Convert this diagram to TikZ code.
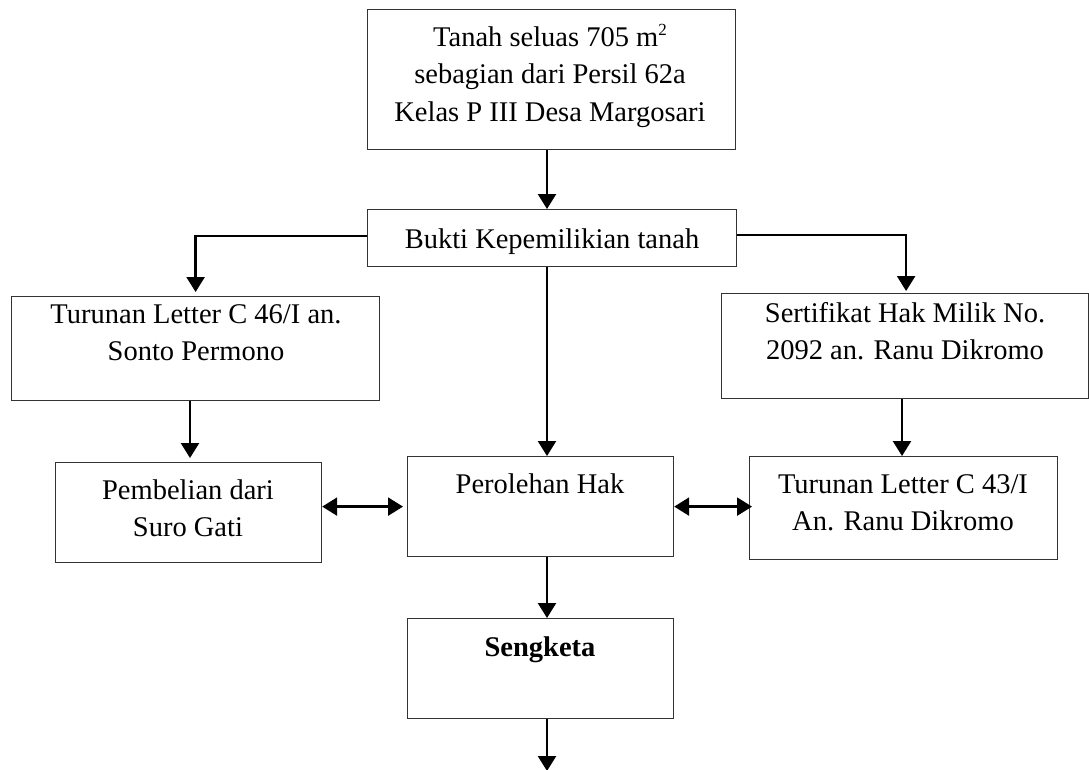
\documentclass[tikz,border=0pt]{standalone}
\usepackage{fontspec}
\setmainfont{Liberation Serif}
\usetikzlibrary{arrows.meta}
\begin{document}
\begin{tikzpicture}[x=1pt,y=-1pt,
  box/.style={draw=black!80, line width=1.2pt, inner sep=0pt, anchor=north west},
  lbl/.style={anchor=base, inner sep=0pt, font=\fontsize{28.5}{37.5}\selectfont},
  tip/.tip={Triangle[width=18pt,length=15pt]},
  arr/.style={line width=2.4pt, -tip},
  darr/.style={line width=2.4pt, tip-tip}]
\useasboundingbox (0,0) rectangle (1089,769);
% boxes
\node[box, minimum width=368pt, minimum height=140pt] (top) at (367,9) {};
\node[box, minimum width=369pt, minimum height=57pt] (bukti) at (367,209) {};
\node[box, minimum width=368pt, minimum height=104pt] (t46) at (11,296) {};
\node[box, minimum width=367pt, minimum height=105pt] (sert) at (721,293) {};
\node[box, minimum width=266pt, minimum height=100pt] (pemb) at (55,462) {};
\node[box, minimum width=266pt, minimum height=100pt] (pero) at (407,456) {};
\node[box, minimum width=308pt, minimum height=103pt] (t43) at (749,456) {};
\node[box, minimum width=266pt, minimum height=100pt] (seng) at (407,618) {};
% texts
\node[lbl] (toptxt) at (550,46) {\begin{tabular}[t]{@{}c@{}}Tanah seluas 705 m\raisebox{11pt}{\fontsize{17}{17}\selectfont 2}\\ sebagian dari Persil 62a\\ Kelas P III Desa Margosari\end{tabular}};
\node[lbl] (buktitxt) at (552,248) {Bukti Kepemilikian tanah};
\node[lbl] (t46txt) at (196,323) {\begin{tabular}[t]{@{}c@{}}Turunan Letter C 46/I an.\\ Sonto Permono\end{tabular}};
\node[lbl] (serttxt) at (905,322) {\begin{tabular}[t]{@{}c@{}}Sertifikat Hak Milik No.\\ 2092 an. Ranu Dikromo\end{tabular}};
\node[lbl] (pembtxt) at (188,499) {\begin{tabular}[t]{@{}c@{}}Pembelian dari\\ Suro Gati\end{tabular}};
\node[lbl] (perotxt) at (540,493) {Perolehan Hak};
\node[lbl] (t43txt) at (903,493) {\begin{tabular}[t]{@{}c@{}}Turunan Letter C 43/I\\ An. Ranu Dikromo\end{tabular}};
\node[lbl] (sengtxt) at (540,656) {\textbf{Sengketa}};
% guide coordinates for connector columns
\coordinate (cmid) at (547,0);
\coordinate (cleft) at (190,0);
\coordinate (cright) at (902,0);
\coordinate (endpt) at (547,771);
% connectors
\draw[arr] (top.south -| cmid) -- (bukti.north -| cmid);
\draw[arr, shorten >=4pt] ([yshift=2pt]bukti.west) -| (t46.north);
\draw[arr, shorten >=2pt] ([yshift=3pt]bukti.east) -| ([xshift=1pt]sert.north);
\draw[arr] (bukti.south -| cmid) -- (pero.north -| cmid);
\draw[arr, shorten >=4pt] (t46.south -| cleft) -- (pemb.north -| cleft);
\draw[arr] (sert.south -| cright) -- (t43.north -| cright);
\draw[darr, shorten >=4pt] ([yshift=6pt]pemb.east) -- ([yshift=6pt]pemb.east -| pero.west);
\draw[darr, shorten >=-3pt] (pero.east) -- (pero.east -| t43.west);
\draw[arr] (pero.south -| cmid) -- (seng.north -| cmid);
\draw[arr] (seng.south -| cmid) -- (endpt);
\end{tikzpicture}
\end{document}
